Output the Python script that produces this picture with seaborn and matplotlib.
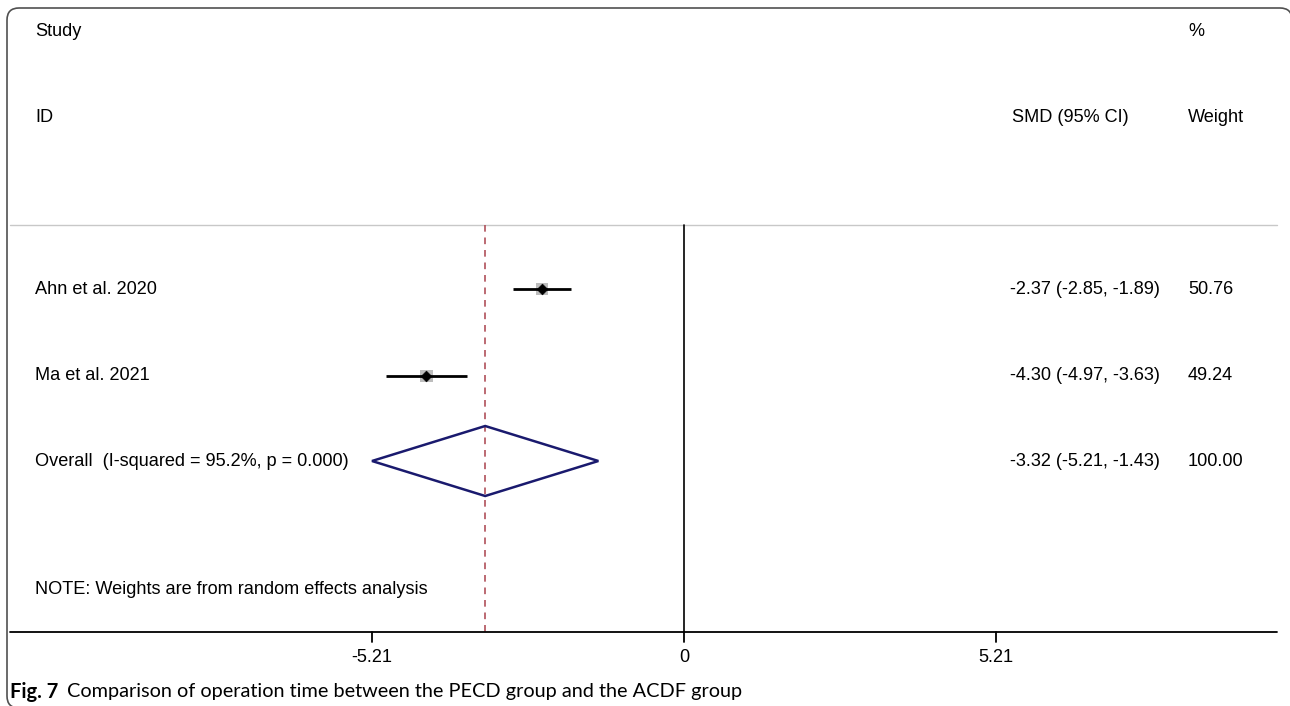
import matplotlib
matplotlib.use("Agg")
import matplotlib.pyplot as plt
from matplotlib.patches import Polygon, PathPatch
from matplotlib.path import Path
from matplotlib.transforms import Affine2D
import seaborn as sns
import pandas as pd

# Study-level results (standardised mean difference, 95% CI, weight %)
studies = ["Ahn et al. 2020", "Ma et al. 2021"]
smd = [-2.37, -4.30]
ci_low = [-2.85, -4.97]
ci_high = [-1.89, -3.63]
weights = [50.76, 49.24]

# Pooled random-effects estimate
overall_label = "Overall  (I-squared = 95.2%, p = 0.000)"
overall_smd = -3.32
overall_low = -5.21
overall_high = -1.43
overall_weight = 100.00

tick_values = [-5.21, 0, 5.21]
tick_labels = ["-5.21", "0", "5.21"]

caption_bold = "Fig. 7"
caption_text = "Comparison of operation time between the PECD group and the ACDF group"

sns.set_theme(style="white")
plt.rcParams["font.family"] = ["Liberation Sans", "DejaVu Sans"]
plt.rcParams["text.color"] = "black"

W, H = 1290, 706
fig = plt.figure(figsize=(W / 100, H / 100), dpi=100)
ax = fig.add_axes([0, 0, 1, 1])

# horizontal scale: 0 sits at x=684 px, 5.21 units span 312 px
x0_px = 684.0
unit_px = 312.0 / 5.21
ax.set_xlim(-x0_px / unit_px, (W - x0_px) / unit_px)
ax.set_ylim(H, 0)
ax.axis("off")


def px(x):
    return (x - x0_px) / unit_px


fs = 13.1
row_y = [289, 376]
overall_y = 461
col_study = px(35)
col_smd = px(1010)
col_w = px(1188)

df = pd.DataFrame({"study": studies, "smd": smd, "lo": ci_low, "hi": ci_high,
                   "w": weights, "y": row_y})

# header rule, zero line and pooled-estimate line
ax.plot([px(10), px(1277)], [225, 225], color="#c8c8c8", lw=1.0)
ax.plot([0, 0], [225, 632], color="black", lw=1.2)
ax.plot([overall_smd, overall_smd], [225, 632], color="#b0505a", lw=1.2,
        dashes=(4, 3.5))

# weight boxes, confidence intervals and point estimates
sns.scatterplot(data=df, x="smd", y="y", size="w", sizes=(80, 82), marker="s",
                color="#bdbdbd", edgecolor="none", legend=False, ax=ax, zorder=3)
ax.hlines(df["y"], df["lo"], df["hi"], color="black", lw=2.0, zorder=4)
sns.scatterplot(data=df, x="smd", y="y", marker="D", s=30, color="black",
                edgecolor="black", legend=False, ax=ax, zorder=5)

# pooled diamond
diamond = Polygon([[overall_low, overall_y], [overall_smd, overall_y - 35],
                   [overall_high, overall_y], [overall_smd, overall_y + 35]],
                  closed=True, fill=False, edgecolor="#1a1a6e", lw=1.8, zorder=6)
ax.add_patch(diamond)

# x axis
ax.plot([px(10), px(1277)], [632, 632], color="black", lw=1.3)
for v, lab in zip(tick_values, tick_labels):
    ax.plot([v, v], [632, 642], color="black", lw=1.3)
    ax.text(v, 657, lab, ha="center", va="center", fontsize=fs)

# headers
ax.text(col_study, 32, "Study", ha="left", va="center", fontsize=fs)
ax.text(col_study, 118, "ID", ha="left", va="center", fontsize=fs)
ax.text(px(1012), 118, "SMD (95% CI)", ha="left", va="center", fontsize=fs)
ax.text(col_w, 32, "%", ha="left", va="center", fontsize=fs)
ax.text(col_w, 118, "Weight", ha="left", va="center", fontsize=fs)

# row labels and numeric columns
for s, m, lo, hi, w, y in zip(studies, smd, ci_low, ci_high, weights, row_y):
    ax.text(col_study, y, s, ha="left", va="center", fontsize=fs)
    ax.text(col_smd, y, f"{m:.2f} ({lo:.2f}, {hi:.2f})", ha="left",
            va="center", fontsize=fs)
    ax.text(col_w, y, f"{w:.2f}", ha="left", va="center", fontsize=fs)

ax.text(col_study, overall_y, overall_label, ha="left", va="center", fontsize=fs)
ax.text(col_smd, overall_y,
        f"{overall_smd:.2f} ({overall_low:.2f}, {overall_high:.2f})",
        ha="left", va="center", fontsize=fs)
ax.text(col_w, overall_y, f"{overall_weight:.2f}", ha="left", va="center",
        fontsize=fs)

ax.text(col_study, 590, "NOTE: Weights are from random effects analysis",
        ha="left", va="center", fontsize=fs)

# caption, sized so the plain part runs to x=745 px
cap_font = ["Lato", "DejaVu Sans"]
cap_y = 1 - 692 / H
t = fig.text(10 / W, cap_y, caption_bold, ha="left", va="center",
             fontsize=14.5, fontweight="bold", family=cap_font)
fig.canvas.draw()
bb = t.get_window_extent()
start = bb.x1 + 9
c = fig.text(start / W, cap_y, caption_text, ha="left", va="center",
             fontsize=14, family=cap_font)
fig.canvas.draw()
cw = c.get_window_extent().width
c.set_fontsize(14 * (745 - start) / cw)

# rounded outer frame in page pixels (y downward); right side lies past the edge
r = 12
left, top, right, bottom = 7, 8, 1292, 708
verts = [(left + r, bottom), (left, bottom), (left, bottom - r),
         (left, top + r), (left, top), (left + r, top),
         (right - r, top), (right, top), (right, top + r),
         (right, bottom + 20)]
codes = [Path.MOVETO, Path.CURVE3, Path.CURVE3,
         Path.LINETO, Path.CURVE3, Path.CURVE3,
         Path.LINETO, Path.CURVE3, Path.CURVE3,
         Path.LINETO]
page_px = Affine2D().scale(1 / W, -1 / H).translate(0, 1) + fig.transFigure
frame = PathPatch(Path(verts, codes), fill=False, edgecolor="#505050", lw=1.2,
                  transform=page_px)
fig.patches.append(frame)

fig.savefig("out.png", dpi=100)
